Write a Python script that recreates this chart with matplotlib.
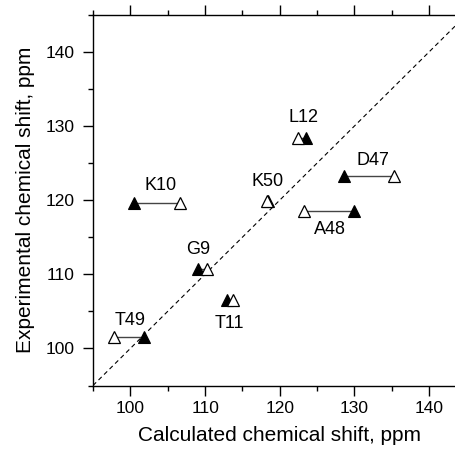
import matplotlib.pyplot as plt
import numpy as np

plt.rcParams['font.family'] = ['Liberation Sans', 'DejaVu Sans']

# residue labels and shifts (ppm)
residues = ['T49', 'K10', 'G9', 'T11', 'K50', 'L12', 'D47', 'A48']
calc_filled = [101.8, 100.5, 109.0, 112.9, 118.4, 123.5, 128.6, 130.0]
calc_open = [97.8, 106.6, 110.3, 113.7, 118.3, 122.4, 135.3, 123.3]
experimental = [101.6, 119.6, 110.7, 106.5, 119.9, 128.4, 123.2, 118.5]

# label anchor positions (data coordinates)
label_x = [100.0, 104.0, 109.1, 113.3, 118.4, 123.2, 132.5, 126.7]
label_y = [103.8, 122.0, 113.4, 103.4, 122.5, 131.2, 125.3, 116.0]

fig = plt.figure(figsize=(4.55, 4.53), dpi=100)
ax = fig.add_axes([0.2044, 0.149, 0.821, 0.8185])

# diagonal y = x
diag = np.array([95, 145])
ax.plot(diag, diag, linestyle=(0, (4, 3)), color='black', linewidth=0.8)

for i in range(len(residues)):
    ax.plot([calc_filled[i], calc_open[i]], [experimental[i], experimental[i]],
            color='#444444', linewidth=1.0, zorder=2)
ax.plot(calc_filled, experimental, '^', color='black', markersize=8,
        markeredgewidth=0.8, linestyle='none', zorder=3)
ax.plot(calc_open, experimental, '^', markerfacecolor='white',
        markeredgecolor='black', markersize=8, markeredgewidth=0.9,
        linestyle='none', zorder=4)

for name, lx, ly in zip(residues, label_x, label_y):
    ax.text(lx, ly, name, fontsize=13, ha='center', va='center')

ax.set_xlim(95, 145)
ax.set_ylim(95, 145)
ax.set_xticks([100, 110, 120, 130, 140])
ax.set_yticks([100, 110, 120, 130, 140])
ax.set_xticks(np.arange(95, 146, 5), minor=True)
ax.set_yticks(np.arange(95, 146, 5), minor=True)

ax.tick_params(axis='both', which='major', direction='out', length=7,
               width=1, labelsize=12.5)
ax.tick_params(axis='both', which='minor', direction='out', length=3.5, width=1)
ax.tick_params(axis='x', which='major', pad=4)
ax.tick_params(axis='y', which='major', pad=6)
ax.tick_params(axis='x', which='both', top=True, labeltop=False)
ax.tick_params(axis='y', which='both', right=True, labelright=False)
for spine in ax.spines.values():
    spine.set_linewidth(1.0)

ax.set_xlabel('Calculated chemical shift, ppm', fontsize=15, labelpad=7.5)
ax.set_ylabel('Experimental chemical shift, ppm', fontsize=15, labelpad=8)

fig.savefig('out.png', dpi=100)
